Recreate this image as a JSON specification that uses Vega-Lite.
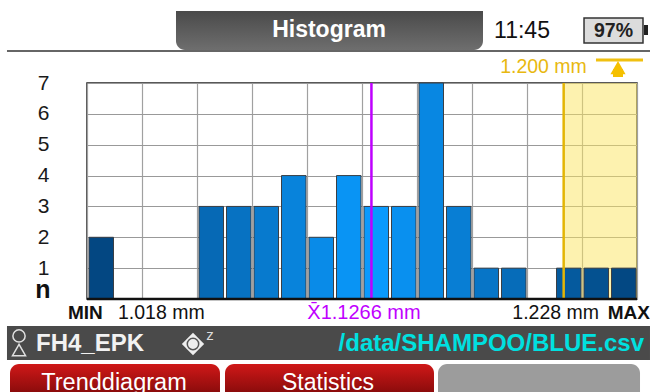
{
"$schema":"https://vega.github.io/schema/vega-lite/v6.json",
"width":550,"height":216,
"autosize":"none",
"padding":{"left":87,"top":83,"right":13,"bottom":93},
"background":"#ffffff",
"view":{"stroke":"#222222","strokeWidth":1.5,"fill":"#ffffff"},
"config":{"font":"Liberation Sans"},
"data":{"values":[{}]},
"datasets":{"bins":[
{"start":1.018,"end":1.0285,"mid":1.02325,"n":2},
{"start":1.0285,"end":1.039,"mid":1.03375,"n":0},
{"start":1.039,"end":1.0495,"mid":1.04425,"n":0},
{"start":1.0495,"end":1.06,"mid":1.05475,"n":0},
{"start":1.06,"end":1.0705,"mid":1.06525,"n":3},
{"start":1.0705,"end":1.081,"mid":1.07575,"n":3},
{"start":1.081,"end":1.0915,"mid":1.08625,"n":3},
{"start":1.0915,"end":1.102,"mid":1.09675,"n":4},
{"start":1.102,"end":1.1125,"mid":1.10725,"n":2},
{"start":1.1125,"end":1.123,"mid":1.11775,"n":4},
{"start":1.123,"end":1.1335,"mid":1.12825,"n":3},
{"start":1.1335,"end":1.144,"mid":1.13875,"n":3},
{"start":1.144,"end":1.1545,"mid":1.14925,"n":7},
{"start":1.1545,"end":1.165,"mid":1.15975,"n":3},
{"start":1.165,"end":1.1755,"mid":1.17025,"n":1},
{"start":1.1755,"end":1.186,"mid":1.18075,"n":1},
{"start":1.186,"end":1.1965,"mid":1.19125,"n":0},
{"start":1.1965,"end":1.207,"mid":1.20175,"n":1},
{"start":1.207,"end":1.2175,"mid":1.21225,"n":1},
{"start":1.2175,"end":1.228,"mid":1.22275,"n":1}
]},
"layer":[
{"mark":{"type":"rect","fill":"#FCE660","opacity":0.5},
 "encoding":{
  "x":{"datum":1.2,"type":"quantitative","title":null,
   "scale":{"domain":[1.018,1.228],"nice":false,"zero":false},
   "axis":{"values":[1.018,1.039,1.06,1.081,1.102,1.123,1.144,1.165,1.186,1.207,1.228],"tickCount":11,"labels":false,"ticks":false,"domain":false,"grid":true,"gridColor":"#a0a0a0","gridWidth":1.2,"title":null}},
  "x2":{"datum":1.228},
  "y":{"datum":0,"type":"quantitative","title":null,
   "scale":{"domain":[0,7],"nice":false,"zero":false},
   "axis":{"values":[0,1,2,3,4,5,6,7],"tickCount":8,"labelExpr":"datum.value==0?'':datum.label","labelOverlap":false,"labelBound":false,"labelFlush":false,"ticks":false,"domain":false,"grid":true,"gridColor":"#999999","gridWidth":1.2,"labelFontSize":21,"labelColor":"#1a1a1a","labelFont":"Liberation Sans","labelPadding":38,"title":null}},
  "y2":{"datum":7}}},
{"data":{"name":"bins"},"mark":{"type":"rect","xOffset":2,"x2Offset":-1,"stroke":"#3a3f45","strokeWidth":1},
 "transform":[{"filter":"datum.n>0"}],
 "encoding":{
  "x":{"field":"start","type":"quantitative"},"x2":{"field":"end"},
  "y":{"field":"n","type":"quantitative"},"y2":{"datum":0},
  "color":{"field":"mid","type":"quantitative","legend":null,
   "scale":{"domain":[1.018,1.1266,1.228],"range":["#03437c","#0a9bff","#03437c"],"interpolate":"rgb"}}
 }},
{"mark":{"type":"rule","color":"#BF00FF","strokeWidth":2.5},"encoding":{"x":{"datum":1.1266,"type":"quantitative"}}},
{"mark":{"type":"rule","color":"#E3B505","strokeWidth":2.5},"encoding":{"x":{"datum":1.2,"type":"quantitative"}}},
{"mark":{"type":"rule","color":"#111111","strokeWidth":2.5},"encoding":{"y":{"datum":0,"type":"quantitative"}}},

{"mark":{"type":"rect","fill":{"gradient":"linear","x1":0,"y1":0,"x2":0,"y2":1,"stops":[{"offset":0,"color":"#4a4a4a"},{"offset":1,"color":"#6e6e6e"}]},"cornerRadiusBottomLeft":9,"cornerRadiusBottomRight":9},
 "encoding":{"x":{"datum":1.05198,"type":"quantitative"},"x2":{"datum":1.1692},"y":{"datum":9.333,"type":"quantitative"},"y2":{"datum":8.069}}},
{"mark":{"type":"rule","color":"#666666","strokeWidth":2},"encoding":{"x":{"datum":0.98745,"type":"quantitative"},"x2":{"datum":1.23296},"y":{"datum":8.037,"type":"quantitative"}}},
{"mark":{"type":"text","text":"Histogram","fontSize":23,"fontWeight":"bold","fill":"#ffffff"},"encoding":{"x":{"datum":1.1104,"type":"quantitative"},"y":{"datum":8.72,"type":"quantitative"}}},
{"mark":{"type":"text","text":"11:45","fontSize":23,"fill":"#111111"},"encoding":{"x":{"datum":1.18409,"type":"quantitative"},"y":{"datum":8.685,"type":"quantitative"}}},
{"mark":{"type":"rect","fill":"#dcdcdc","stroke":"#333333","strokeWidth":1.5},"encoding":{"x":{"datum":1.20777,"type":"quantitative"},"x2":{"datum":1.23029},"y":{"datum":9.106,"type":"quantitative"},"y2":{"datum":8.296}}},
{"mark":{"type":"rect","fill":"#222222"},"encoding":{"x":{"datum":1.23067,"type":"quantitative"},"x2":{"datum":1.2322},"y":{"datum":8.88,"type":"quantitative"},"y2":{"datum":8.556}}},
{"mark":{"type":"text","text":"97%","fontSize":19.5,"fontWeight":"bold","fill":"#222222"},"encoding":{"x":{"datum":1.21903,"type":"quantitative"},"y":{"datum":8.7,"type":"quantitative"}}},
{"mark":{"type":"text","text":"1.200 mm","fontSize":19.5,"fill":"#E8B810"},"encoding":{"x":{"datum":1.1923,"type":"quantitative"},"y":{"datum":7.519,"type":"quantitative"}}},
{"mark":{"type":"rule","color":"#F0C010","strokeWidth":3},"encoding":{"x":{"datum":1.21234,"type":"quantitative"},"x2":{"datum":1.23029},"y":{"datum":7.745,"type":"quantitative"}}},
{"mark":{"type":"point","shape":"triangle-up","filled":true,"size":230,"color":"#F5C000","opacity":1},"encoding":{"x":{"datum":1.22075,"type":"quantitative"},"y":{"datum":7.5,"type":"quantitative"}}},
{"mark":{"type":"rect","fill":"#F5C000"},"encoding":{"x":{"datum":1.21884,"type":"quantitative"},"x2":{"datum":1.22265},"y":{"datum":7.45,"type":"quantitative"},"y2":{"datum":7.194}}},
{"mark":{"type":"text","text":"n","fontSize":25,"fontWeight":"bold","fill":"#111111","baseline":"alphabetic"},"encoding":{"x":{"datum":1.0012,"type":"quantitative"},"y":{"datum":0.032,"type":"quantitative"}}},
{"mark":{"type":"text","text":"MIN","fontSize":19,"fontWeight":"bold","align":"left","fill":"#111111"},"encoding":{"x":{"datum":1.01075,"type":"quantitative"},"y":{"datum":-0.454,"type":"quantitative"}}},
{"mark":{"type":"text","text":"1.018 mm","fontSize":19.5,"align":"left","fill":"#111111"},"encoding":{"x":{"datum":1.02984,"type":"quantitative"},"y":{"datum":-0.454,"type":"quantitative"}}},
{"mark":{"type":"text","text":"X̄1.1266 mm","fontSize":20,"fill":"#C000FF"},"encoding":{"x":{"datum":1.12376,"type":"quantitative"},"y":{"datum":-0.454,"type":"quantitative"}}},
{"mark":{"type":"text","text":"1.228 mm","fontSize":19.5,"align":"right","fill":"#111111"},"encoding":{"x":{"datum":1.21349,"type":"quantitative"},"y":{"datum":-0.454,"type":"quantitative"}}},
{"mark":{"type":"text","text":"MAX","fontSize":19,"fontWeight":"bold","align":"right","fill":"#111111"},"encoding":{"x":{"datum":1.23296,"type":"quantitative"},"y":{"datum":-0.454,"type":"quantitative"}}},
{"mark":{"type":"rect","fill":"#4a4a4a"},"encoding":{"x":{"datum":0.98745,"type":"quantitative"},"x2":{"datum":1.23296},"y":{"datum":-0.875,"type":"quantitative"},"y2":{"datum":-1.977}}},
{"mark":{"type":"point","shape":"circle","filled":false,"size":150,"stroke":"#e0e0e0","strokeWidth":1.5,"opacity":1},"encoding":{"x":{"datum":0.99204,"type":"quantitative"},"y":{"datum":-1.199,"type":"quantitative"}}},
{"mark":{"type":"point","shape":"triangle-up","filled":false,"size":170,"stroke":"#e0e0e0","strokeWidth":1.5,"opacity":1},"encoding":{"x":{"datum":0.99204,"type":"quantitative"},"y":{"datum":-1.653,"type":"quantitative"}}},
{"mark":{"type":"text","text":"FH4_EPK","fontSize":24,"fontWeight":"bold","align":"left","fill":"#f2f2f2"},"encoding":{"x":{"datum":0.99853,"type":"quantitative"},"y":{"datum":-1.458,"type":"quantitative"}}},
{"mark":{"type":"point","shape":"diamond","filled":true,"size":500,"color":"#eeeeee","opacity":1},"encoding":{"x":{"datum":1.05847,"type":"quantitative"},"y":{"datum":-1.458,"type":"quantitative"}}},
{"mark":{"type":"point","shape":"circle","filled":false,"size":130,"stroke":"#555555","strokeWidth":1.5,"opacity":1},"encoding":{"x":{"datum":1.05847,"type":"quantitative"},"y":{"datum":-1.458,"type":"quantitative"}}},
{"mark":{"type":"text","text":"z","fontSize":15,"fill":"#dddddd"},"encoding":{"x":{"datum":1.06496,"type":"quantitative"},"y":{"datum":-1.167,"type":"quantitative"}}},
{"mark":{"type":"text","text":"/data/SHAMPOO/BLUE.csv","fontSize":24,"fontWeight":"bold","align":"right","fill":"#00E0E0"},"encoding":{"x":{"datum":1.23067,"type":"quantitative"},"y":{"datum":-1.458,"type":"quantitative"}}},
{"mark":{"type":"rect","fill":{"gradient":"linear","x1":0,"y1":0,"x2":0,"y2":1,"stops":[{"offset":0,"color":"#d01818"},{"offset":1,"color":"#8c0c0c"}]},"cornerRadiusTopLeft":9,"cornerRadiusTopRight":9},"encoding":{"x":{"datum":0.9886,"type":"quantitative"},"x2":{"datum":1.06878},"y":{"datum":-2.106,"type":"quantitative"},"y2":{"datum":-3.014}}},
{"mark":{"type":"rect","fill":{"gradient":"linear","x1":0,"y1":0,"x2":0,"y2":1,"stops":[{"offset":0,"color":"#d01818"},{"offset":1,"color":"#8c0c0c"}]},"cornerRadiusTopLeft":9,"cornerRadiusTopRight":9},"encoding":{"x":{"datum":1.07069,"type":"quantitative"},"x2":{"datum":1.15049},"y":{"datum":-2.106,"type":"quantitative"},"y2":{"datum":-3.014}}},
{"mark":{"type":"rect","fill":"#9c9c9c","cornerRadiusTopLeft":9,"cornerRadiusTopRight":9},"encoding":{"x":{"datum":1.15202,"type":"quantitative"},"x2":{"datum":1.22915},"y":{"datum":-2.106,"type":"quantitative"},"y2":{"datum":-3.014}}},
{"mark":{"type":"text","text":"Trenddiagram","fontSize":23.5,"fill":"#ffffff"},"encoding":{"x":{"datum":1.02831,"type":"quantitative"},"y":{"datum":-2.722,"type":"quantitative"}}},
{"mark":{"type":"text","text":"Statistics","fontSize":23,"fill":"#ffffff"},"encoding":{"x":{"datum":1.11002,"type":"quantitative"},"y":{"datum":-2.722,"type":"quantitative"}}}
]
}
